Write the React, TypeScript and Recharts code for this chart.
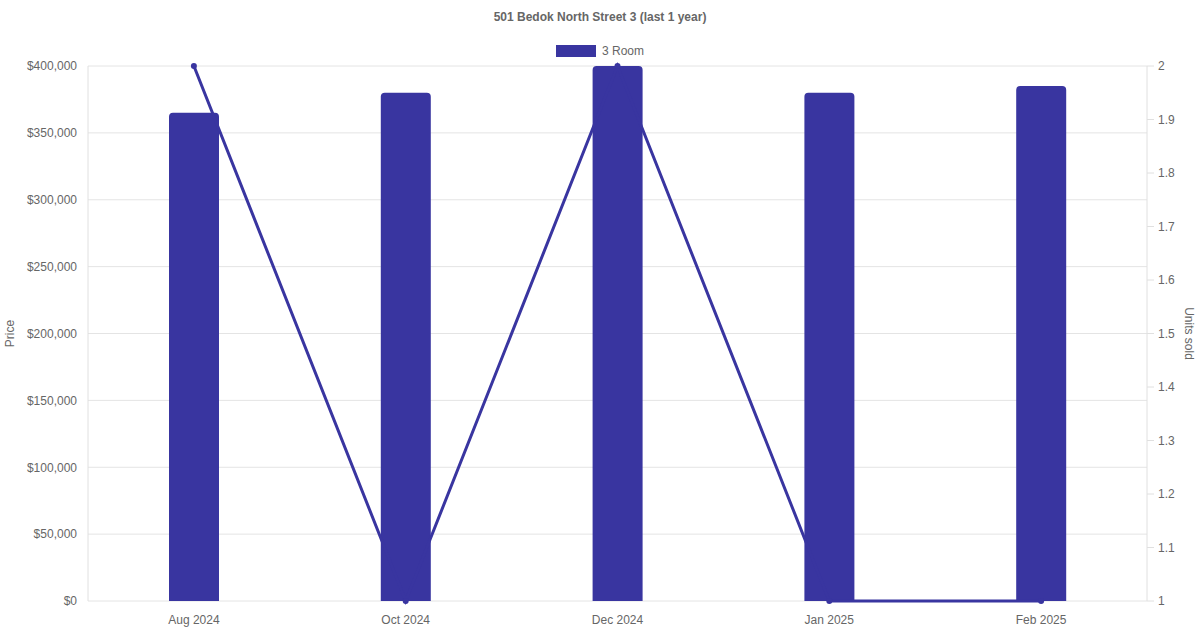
import React from "react";
import {
  ComposedChart,
  Bar,
  Line,
  XAxis,
  YAxis,
  CartesianGrid,
  Legend,
} from "recharts";

const months = ["Aug 2024", "Oct 2024", "Dec 2024", "Jan 2025", "Feb 2025"];
const prices = [365000, 380000, 400000, 380000, 385000];
const unitsSold = [2, 1, 2, 1, 1];
const priceTicks = [0, 50000, 100000, 150000, 200000, 250000, 300000, 350000, 400000];
const unitTicks = [1, 1.1, 1.2, 1.3, 1.4, 1.5, 1.6, 1.7, 1.8, 1.9, 2];

const COLOR = "#3935a0";
const TEXT = "#666666";
const FONT = '"Liberation Sans", Arial, Helvetica, sans-serif';

const data = months.map((m, i) => ({ month: m, price: prices[i], units: unitsSold[i] }));

const fmtPrice = (v: number) => "$" + v.toLocaleString("en-US");
const fmtUnits = (v: number) => String(Math.round(v * 10) / 10);

const LegendContent = () => (
  <div
    style={{
      height: 20,
      display: "flex",
      justifyContent: "center",
      alignItems: "center",
      fontFamily: FONT,
      fontSize: 12,
      color: TEXT,
    }}
  >
    <span
      style={{
        display: "inline-block",
        width: 40,
        height: 12,
        background: COLOR,
        marginRight: 6,
      }}
    />
    <span>3 Room</span>
  </div>
);

export default function App() {
  return (
    <div style={{ position: "absolute", left: 0, top: 0, width: 1200, height: 630, background: "#fff" }}>
      <div
        style={{
          position: "absolute",
          top: 10,
          left: 0,
          width: 1200,
          textAlign: "center",
          fontFamily: FONT,
          fontSize: 12,
          fontWeight: "bold",
          color: TEXT,
        }}
      >
        501 Bedok North Street 3 (last 1 year)
      </div>
      <ComposedChart
        width={1200}
        height={630}
        data={data}
        margin={{ top: 46, right: 0, bottom: 0, left: 0 }}
        style={{ fontFamily: FONT }}
      >
        <Legend
          verticalAlign="top"
          content={<LegendContent />}
          wrapperStyle={{ top: 41, left: 0, width: 1200, height: 20 }}
        />
        <CartesianGrid yAxisId="left" vertical={false} stroke="#e4e4e4" />
        <XAxis
          dataKey="month"
          height={29}
          tickLine={false}
          tickSize={0}
          tickMargin={14}
          axisLine={false}
          tick={{ fill: TEXT, fontSize: 12 }}
          interval={0}
        />
        <YAxis
          yAxisId="left"
          orientation="left"
          width={88}
          domain={[0, 400000]}
          ticks={priceTicks}
          tickFormatter={fmtPrice}
          tickLine={false}
          tickSize={0}
          tickMargin={11}
          axisLine={{ stroke: "#e0e0e0" }}
          tick={{ fill: TEXT, fontSize: 12 }}
          label={{ value: "Price", angle: -90, position: "insideLeft", offset: 10, fill: TEXT, fontSize: 12, style: { textAnchor: "middle" } }}
        />
        <YAxis
          yAxisId="right"
          orientation="right"
          width={53}
          domain={[1, 2]}
          ticks={unitTicks}
          tickFormatter={fmtUnits}
          tickSize={7}
          tickMargin={4}
          tickLine={{ stroke: "#e0e0e0" }}
          axisLine={{ stroke: "#e0e0e0" }}
          tick={{ fill: TEXT, fontSize: 12 }}
          label={{ value: "Units sold", angle: 90, position: "insideRight", offset: 11, fill: TEXT, fontSize: 12, style: { textAnchor: "middle" } }}
        />
        <Bar
          yAxisId="left"
          dataKey="price"
          fill={COLOR}
          barSize={50}
          radius={[4, 4, 0, 0]}
          isAnimationActive={false}
        />
        <Line
          yAxisId="right"
          dataKey="units"
          type="linear"
          stroke={COLOR}
          strokeWidth={3}
          dot={{ r: 3, fill: COLOR, stroke: COLOR, strokeWidth: 0 }}
          activeDot={false}
          isAnimationActive={false}
        />
      </ComposedChart>
    </div>
  );
}
